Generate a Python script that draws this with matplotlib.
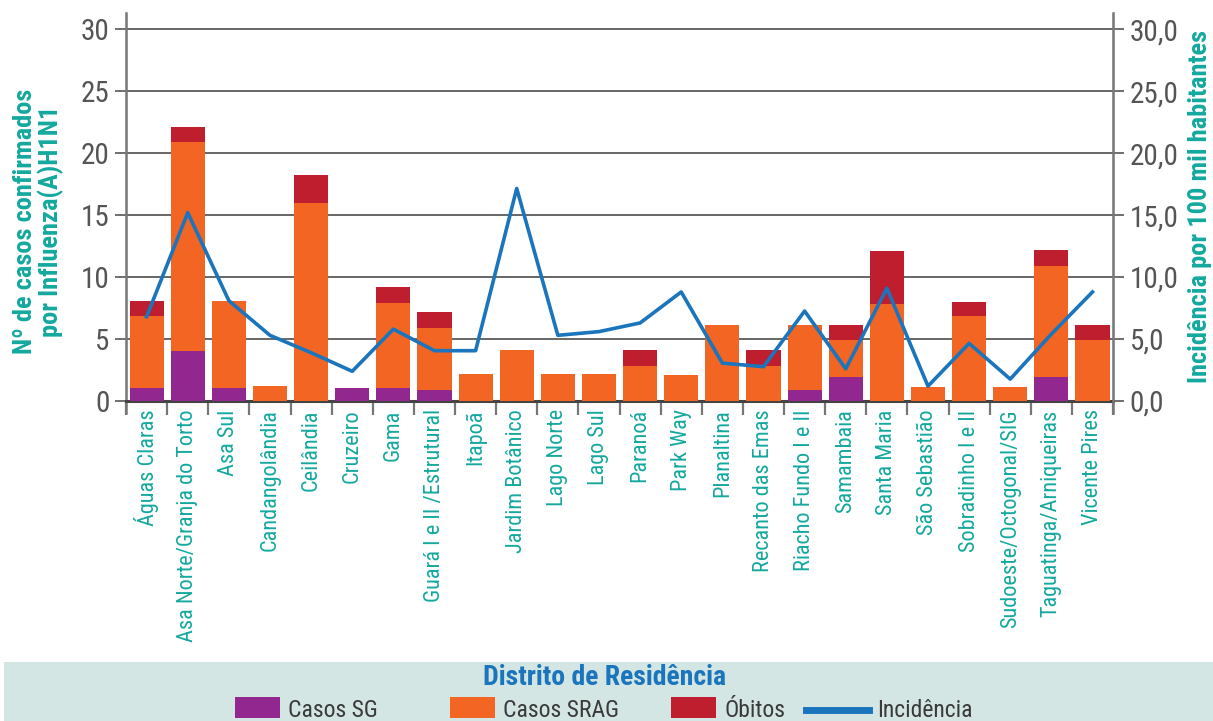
import matplotlib
matplotlib.use('Agg')
import matplotlib.pyplot as plt
import numpy as np
from matplotlib.patches import Rectangle
from matplotlib.lines import Line2D

# ----------------------------------------------------------------------------------------------------------------------
# data
distritos = ['Águas Claras', 'Asa Norte/Granja do Torto', 'Asa Sul', 'Candangolândia', 'Ceilândia', 'Cruzeiro',
             'Gama', 'Guará I e II /Estrutural', 'Itapoã', 'Jardim Botânico', 'Lago Norte', 'Lago Sul', 'Paranoá',
             'Park Way', 'Planaltina', 'Recanto das Emas', 'Riacho Fundo I e II', 'Samambaia', 'Santa Maria',
             'São Sebastião', 'Sobradinho I e II', 'Sudoeste/Octogonal/SIG', 'Taguatinga/Arniqueiras',
             'Vicente Pires']
casos_sg = [1.05, 4.05, 1.05, 0, 0, 1.05, 1.05, 0.9, 0, 0, 0, 0, 0, 0, 0, 0, 0.9, 1.9, 0, 0, 0, 0, 1.9, 0]
casos_srag = [5.85, 16.85, 7.0, 1.2, 16.0, 0, 6.85, 5.0, 2.2, 4.1, 2.2, 2.2, 2.8, 2.1, 6.1, 2.8, 5.2, 3.0,
              7.85, 1.15, 6.85, 1.15, 9.0, 4.9]
obitos = [1.2, 1.2, 0, 0, 2.2, 0, 1.3, 1.3, 0, 0, 0, 0, 1.3, 0, 0, 1.3, 0, 1.2, 4.25, 0, 1.15, 0, 1.3, 1.2]
incidencia = [6.8, 15.2, 8.1, 5.3, 3.9, 2.4, 5.8, 4.06, 4.06, 17.15, 5.3, 5.6, 6.3, 8.8, 3.06, 2.77, 7.26,
              2.6, 9.1, 1.2, 4.65, 1.77, 5.4, 8.8]
yticks_left = [0, 5, 10, 15, 20, 25, 30]
yticks_right = ['0,0', '5,0', '10,0', '15,0', '20,0', '25,0', '30,0']
legenda = ['Casos SG', 'Casos SRAG', 'Óbitos', 'Incidência']

# ----------------------------------------------------------------------------------------------------------------------
# style
font_narrow = ['Roboto Condensed', 'Barlow Condensed', 'Archivo Narrow', 'Roboto', 'DejaVu Sans']
plt.rcParams['font.family'] = font_narrow
col_sg, col_srag, col_ob, col_inc = '#92278f', '#f26522', '#be1e2d', '#1b75bc'
col_teal, col_grey, col_text = '#13a89e', '#555555', '#3a3a3a'

fig = plt.figure(figsize=(12.13, 7.21), dpi=100)
ax = fig.add_axes([0.1039, 0.4438, 0.8137, 0.538])
ax2 = ax.twinx()

x = np.arange(len(distritos))
sg = np.array(casos_sg)
srag = np.array(casos_srag)
ob = np.array(obitos)

# bars
ax.bar(x, sg, width=0.83, color=col_sg, zorder=3)
ax.bar(x, srag, width=0.83, bottom=sg, color=col_srag, zorder=3)
ax.bar(x, ob, width=0.83, bottom=sg + srag, color=col_ob, zorder=3)

# line
ax2.plot(x, incidencia, color=col_inc, lw=2.6, zorder=4)

# axes
ax.set_xlim(-0.5, len(distritos) - 0.5)
ax.set_ylim(0, 31.3)
ax2.set_ylim(0, 31.3)
ax.set_yticks(yticks_left)
ax2.set_yticks(yticks_left)
ax2.set_yticklabels(yticks_right)
for yv in yticks_left[1:]:
    ax.axhline(yv, color='#4d4d4d', lw=1.2, zorder=1)

ax.set_xticks(x)
ax.set_xticklabels(distritos, rotation=90, color=col_teal, fontsize=16)
ax.set_xticks(np.arange(-0.5, len(distritos)), minor=True)
ax.tick_params(axis='x', which='major', length=0, pad=6)
ax.tick_params(axis='x', which='minor', length=10, width=1.6, color='#777777', direction='out')
for a in (ax, ax2):
    a.tick_params(axis='y', labelsize=21, labelcolor=col_grey, length=8, width=1.2, color=col_grey, pad=4,
                  direction='out')
    a.spines['top'].set_visible(False)

# spines (vertical ones run a little below zero, as in the original)
ax.spines['left'].set_color('#777777')
ax.spines['left'].set_linewidth(1.8)
ax.spines['left'].set_bounds(-0.95, 31.3)
ax2.spines['right'].set_color('#777777')
ax2.spines['right'].set_linewidth(1.8)
ax2.spines['right'].set_bounds(-0.95, 31.3)
ax2.spines['left'].set_visible(False)
ax.spines['bottom'].set_color('#444444')
ax.spines['bottom'].set_linewidth(2.2)
ax2.spines['bottom'].set_visible(False)

# axis labels
fig.text(0.032, 0.693, 'Nº de casos confirmados\npor Influenza(A)H1N1', rotation=90, ha='center', va='center',
         color=col_teal, fontsize=19, fontweight='bold', linespacing=1.05, multialignment='center')
fig.text(0.989, 0.713, 'Incidência por 100 mil habitantes', rotation=90, ha='center', va='center',
         color=col_teal, fontsize=19, fontweight='bold')

# legend box (drawn by hand to follow the uneven spacing)
fig.patches.append(Rectangle((0.003, 0.0), 0.997, 0.082, transform=fig.transFigure, facecolor='#d4e6e3',
                             edgecolor='none', zorder=0))
fig.text(0.4988, 0.05, 'Distrito de Residência', ha='center', va='baseline', color=col_inc, fontsize=20,
         fontweight='bold')
leg_patch_x = [0.1937, 0.371, 0.5532]
leg_text_x = [0.2374, 0.4147, 0.5969, 0.723]
for px, col in zip(leg_patch_x, [col_sg, col_srag, col_ob]):
    fig.patches.append(Rectangle((px, 0.0042), 0.0371, 0.0291, transform=fig.transFigure, facecolor=col,
                                 edgecolor='none'))
fig.lines.append(Line2D([0.6645, 0.7164], [0.0153, 0.0153], transform=fig.transFigure, color=col_inc, lw=5))
for tx, lab in zip(leg_text_x, legenda):
    fig.text(tx, 0.0055, lab, ha='left', va='baseline', color=col_text, fontsize=17)

fig.savefig('out.png', dpi=100)
